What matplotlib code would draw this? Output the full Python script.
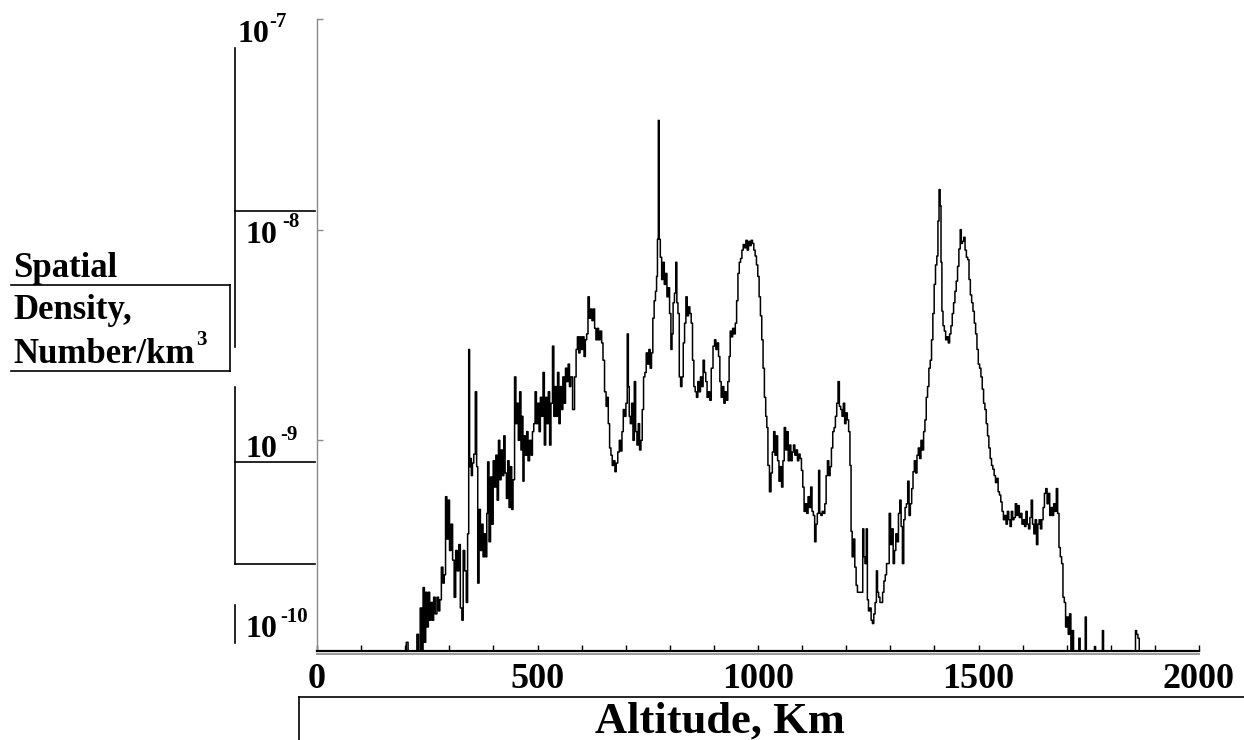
import matplotlib
matplotlib.use("Agg")
import matplotlib.pyplot as plt
from matplotlib.lines import Line2D
from matplotlib.ticker import FixedLocator, NullLocator

# debris density profile, altitude in km vs. objects per km^3
# (1e-10 marks bins with nothing in them; they sit on the axis)
altitude_km = [
    0, 200, 205, 208, 225, 228, 232, 236,
    239, 242, 245, 248, 251, 254, 257, 260,
    263, 266, 270, 274, 277, 280, 284, 287,
    290, 293, 296, 299, 302, 306, 309, 313,
    316, 320, 323, 327, 330, 333, 337, 340,
    343, 345, 347, 349, 351, 354, 357, 361,
    363, 366, 369, 372, 375, 378, 381, 384,
    386, 388, 392, 395, 398, 401, 404, 407,
    410, 413, 416, 419, 422, 425, 428, 431,
    434, 437, 440, 443, 446, 450, 452, 455,
    458, 461, 464, 466, 468, 471, 474, 477,
    480, 484, 487, 490, 493, 496, 499, 502,
    505, 508, 511, 514, 517, 520, 523, 526,
    529, 532, 536, 538, 541, 544, 547, 550,
    553, 556, 559, 562, 565, 568, 571, 574,
    577, 582, 586, 589, 592, 595, 598, 601,
    604, 607, 610, 613, 616, 619, 622, 625,
    628, 631, 634, 637, 640, 644, 647, 650,
    654, 657, 659, 662, 665, 668, 671, 674,
    677, 680, 684, 687, 690, 693, 696, 699,
    702, 705, 707, 709, 712, 715, 718, 721,
    724, 727, 730, 733, 736, 739, 742, 745,
    748, 751, 754, 757, 760, 763, 766, 769,
    771, 773, 775, 777, 780, 783, 786, 789,
    792, 795, 798, 801, 804, 806, 809, 812,
    815, 817, 820, 823, 826, 829, 832, 835,
    838, 841, 844, 847, 850, 853, 856, 859,
    862, 865, 868, 871, 874, 877, 880, 883,
    886, 889, 892, 896, 900, 903, 906, 909,
    912, 915, 918, 921, 924, 927, 930, 933,
    936, 938, 941, 944, 947, 950, 953, 956,
    959, 962, 965, 968, 971, 974, 977, 980,
    983, 986, 989, 992, 995, 998, 1001, 1004,
    1007, 1010, 1013, 1016, 1019, 1021, 1024, 1028,
    1031, 1034, 1037, 1040, 1043, 1046, 1049, 1052,
    1055, 1058, 1061, 1064, 1067, 1070, 1073, 1076,
    1079, 1082, 1085, 1088, 1091, 1094, 1097, 1100,
    1103, 1106, 1109, 1112, 1115, 1118, 1121, 1124,
    1127, 1130, 1133, 1136, 1139, 1141, 1144, 1147,
    1150, 1153, 1156, 1159, 1162, 1165, 1168, 1171,
    1174, 1177, 1180, 1183, 1186, 1189, 1192, 1195,
    1198, 1201, 1204, 1207, 1210, 1212, 1215, 1218,
    1221, 1224, 1227, 1230, 1233, 1236, 1239, 1241,
    1244, 1247, 1249, 1252, 1255, 1258, 1261, 1264,
    1267, 1270, 1272, 1275, 1278, 1281, 1284, 1287,
    1290, 1293, 1296, 1299, 1302, 1305, 1308, 1311,
    1314, 1317, 1320, 1323, 1326, 1329, 1332, 1335,
    1338, 1341, 1344, 1347, 1350, 1353, 1356, 1359,
    1362, 1365, 1368, 1371, 1374, 1377, 1380, 1383,
    1386, 1389, 1392, 1395, 1398, 1401, 1404, 1407,
    1409, 1412, 1414, 1416, 1418, 1421, 1424, 1427,
    1430, 1433, 1436, 1439, 1442, 1445, 1448, 1451,
    1454, 1457, 1460, 1462, 1465, 1468, 1471, 1474,
    1477, 1480, 1483, 1486, 1489, 1492, 1495, 1498,
    1501, 1504, 1507, 1510, 1513, 1516, 1519, 1522,
    1525, 1528, 1531, 1534, 1537, 1540, 1543, 1546,
    1549, 1552, 1555, 1558, 1561, 1564, 1567, 1570,
    1573, 1576, 1579, 1582, 1585, 1588, 1591, 1594,
    1597, 1600, 1603, 1606, 1609, 1612, 1615, 1618,
    1621, 1624, 1627, 1630, 1633, 1636, 1639, 1642,
    1645, 1648, 1651, 1654, 1657, 1660, 1663, 1666,
    1669, 1672, 1675, 1678, 1681, 1684, 1687, 1690,
    1693, 1696, 1699, 1702, 1705, 1708, 1711, 1714,
    1717, 1726, 1729, 1732, 1741, 1743, 1746, 1762,
    1764, 1767, 1780, 1782, 1785, 1855, 1857, 1860,
    1863, 1866, 2000,
]

density = [
    1e-10, 1e-10, 1.1e-10, 1e-10, 1e-10, 1.2e-10, 1e-10, 1.6e-10,
    1e-10, 2.0e-10, 1.1e-10, 1.9e-10, 1.3e-10, 1.9e-10, 1.4e-10, 1.7e-10,
    1.4e-10, 1.8e-10, 1.5e-10, 1.8e-10, 1.55e-10, 1.75e-10, 2.5e-10, 2.1e-10,
    2.3e-10, 5.4e-10, 3.4e-10, 5.2e-10, 3.0e-10, 4.0e-10, 2.7e-10, 1.8e-10,
    3.0e-10, 2.4e-10, 3.2e-10, 1.6e-10, 1.4e-10, 3.0e-10, 2.4e-10, 1.7e-10,
    3.6e-10, 2.7e-9, 7.5e-10, 8.2e-10, 6.8e-10, 7.8e-10, 8.6e-10, 1.7e-9,
    7.5e-10, 2.1e-10, 4.7e-10, 3.0e-10, 4.0e-10, 2.8e-10, 3.6e-10, 2.8e-10,
    4.5e-10, 7.9e-10, 3.3e-10, 6.7e-10, 4.0e-10, 8.0e-10, 6.0e-10, 8.5e-10,
    5.2e-10, 1.0e-9, 6.5e-10, 9.0e-10, 6.8e-10, 1.05e-9, 7.0e-10, 5.3e-10,
    8.0e-10, 4.8e-10, 7.5e-10, 4.7e-10, 6.5e-10, 2.0e-9, 1.2e-9, 1.5e-9,
    1.0e-9, 1.7e-9, 9.0e-10, 1.3e-9, 6.4e-10, 1.05e-9, 8.5e-10, 1.1e-9,
    8.0e-10, 1.0e-9, 8.5e-10, 1.1e-9, 1.2e-9, 1.7e-9, 1.2e-9, 1.5e-9,
    1.1e-9, 1.6e-9, 1.3e-9, 2.1e-9, 9.5e-10, 1.6e-9, 1.2e-9, 1.7e-9,
    9.5e-10, 1.5e-9, 2.8e-9, 1.3e-9, 1.8e-9, 1.3e-9, 2.1e-9, 1.2e-9,
    1.8e-9, 1.4e-9, 2.0e-9, 1.5e-9, 2.2e-9, 1.9e-9, 2.3e-9, 1.8e-9,
    2.0e-9, 1.4e-9, 2.0e-9, 2.7e-9, 3.1e-9, 2.6e-9, 3.1e-9, 2.7e-9,
    3.1e-9, 2.5e-9, 3.0e-9, 3.2e-9, 4.8e-9, 3.8e-9, 4.2e-9, 3.7e-9,
    4.2e-9, 3.4e-9, 3.0e-9, 3.4e-9, 3.0e-9, 3.3e-9, 2.9e-9, 2.4e-9,
    1.7e-9, 1.45e-9, 1.6e-9, 1.2e-9, 9.2e-10, 8.5e-10, 7.6e-10, 8.0e-10,
    7.1e-10, 7.8e-10, 8.8e-10, 1.0e-9, 8.9e-10, 1.1e-9, 1.4e-9, 1.3e-9,
    1.5e-9, 3.2e-9, 1.8e-9, 1.3e-9, 1.2e-9, 1.5e-9, 1.0e-9, 1.9e-9,
    1.1e-9, 9.5e-10, 1.2e-9, 9.0e-10, 1.0e-9, 1.4e-9, 2.0e-9, 2.1e-9,
    2.6e-9, 2.3e-9, 2.7e-9, 2.2e-9, 2.6e-9, 3.8e-9, 4.6e-9, 5.1e-9,
    6.0e-9, 9.0e-9, 3.3e-8, 9.0e-9, 7.4e-9, 5.8e-9, 7.0e-9, 5.5e-9,
    6.2e-9, 4.8e-9, 5.3e-9, 4.0e-9, 2.7e-9, 3.2e-9, 4.5e-9, 5.0e-9,
    7.0e-9, 4.5e-9, 4.0e-9, 2.0e-9, 1.8e-9, 2.0e-9, 2.9e-9, 3.6e-9,
    4.8e-9, 3.9e-9, 4.3e-9, 4.0e-9, 3.6e-9, 2.4e-9, 1.8e-9, 1.7e-9,
    1.6e-9, 1.9e-9, 1.7e-9, 2.0e-9, 1.8e-9, 2.4e-9, 2.1e-9, 1.9e-9,
    1.6e-9, 1.7e-9, 1.55e-9, 2.2e-9, 2.8e-9, 3.0e-9, 2.7e-9, 2.9e-9,
    2.5e-9, 1.9e-9, 1.6e-9, 1.8e-9, 1.5e-9, 1.7e-9, 1.55e-9, 1.9e-9,
    2.5e-9, 3.3e-9, 3.1e-9, 3.4e-9, 3.2e-9, 3.6e-9, 4.6e-9, 6.2e-9,
    7.0e-9, 7.3e-9, 8.0e-9, 8.5e-9, 8.2e-9, 8.9e-9, 8.0e-9, 8.8e-9,
    8.4e-9, 8.9e-9, 8.6e-9, 8.0e-9, 7.5e-9, 6.8e-9, 6.0e-9, 4.8e-9,
    3.9e-9, 3.0e-9, 2.2e-9, 1.6e-9, 1.3e-9, 1.15e-9, 7.6e-10, 5.7e-10,
    7.0e-10, 8.8e-10, 1.1e-9, 8.5e-10, 1.05e-9, 8.0e-10, 6.4e-10, 7.5e-10,
    6.0e-10, 8.0e-10, 1.15e-9, 9.0e-10, 1.1e-9, 8.0e-10, 9.5e-10, 8.0e-10,
    8.8e-10, 9.5e-10, 8.5e-10, 9.0e-10, 8.0e-10, 8.6e-10, 8.2e-10, 7.2e-10,
    6.0e-10, 4.6e-10, 5.0e-10, 4.5e-10, 5.4e-10, 4.8e-10, 6.0e-10, 4.6e-10,
    4.4e-10, 3.3e-10, 4.0e-10, 4.5e-10, 7.2e-10, 4.5e-10, 4.4e-10, 4.6e-10,
    4.5e-10, 5.0e-10, 6.8e-10, 8.0e-10, 6.8e-10, 7.5e-10, 9.2e-10, 1.1e-9,
    1.15e-9, 1.3e-9, 1.5e-9, 1.9e-9, 1.45e-9, 1.4e-9, 1.3e-9, 1.5e-9,
    1.2e-9, 1.35e-9, 1.25e-9, 1.1e-9, 7.6e-10, 3.7e-10, 2.8e-10, 3.4e-10,
    2.5e-10, 2.05e-10, 1.9e-10, 1.9e-10, 1.9e-10, 1.9e-10, 3.8e-10, 2.8e-10,
    2.6e-10, 3.8e-10, 1.75e-10, 1.55e-10, 1.6e-10, 1.4e-10, 1.35e-10, 1.5e-10,
    1.7e-10, 2.4e-10, 1.9e-10, 1.8e-10, 1.7e-10, 1.7e-10, 1.9e-10, 2.15e-10,
    2.3e-10, 2.6e-10, 2.6e-10, 4.5e-10, 3.2e-10, 3.8e-10, 2.6e-10, 3.0e-10,
    3.6e-10, 3.3e-10, 4.5e-10, 5.2e-10, 3.9e-10, 2.6e-10, 4.2e-10, 4.8e-10,
    5.0e-10, 6.4e-10, 4.4e-10, 5.0e-10, 5.9e-10, 7.1e-10, 8.0e-10, 7.0e-10,
    8.5e-10, 9.2e-10, 8.2e-10, 1.0e-9, 9.0e-10, 1.1e-9, 1.25e-9, 1.6e-9,
    1.8e-9, 2.2e-9, 2.4e-9, 3.0e-9, 4.0e-9, 5.5e-9, 6.8e-9, 7.5e-9,
    1.1e-8, 1.55e-8, 1.3e-8, 7.0e-9, 4.1e-9, 3.5e-9, 3.3e-9, 3.0e-9,
    3.1e-9, 2.9e-9, 3.2e-9, 3.5e-9, 4.0e-9, 4.5e-9, 5.1e-9, 5.7e-9,
    6.7e-9, 8.1e-9, 1.0e-8, 8.6e-9, 8.8e-9, 9.2e-9, 8.0e-9, 7.4e-9,
    7.2e-9, 5.8e-9, 4.9e-9, 4.5e-9, 4.1e-9, 3.6e-9, 3.2e-9, 2.7e-9,
    2.3e-9, 2.2e-9, 2.0e-9, 1.75e-9, 1.5e-9, 1.4e-9, 1.2e-9, 1.05e-9,
    9.2e-10, 8.2e-10, 7.6e-10, 7.3e-10, 6.8e-10, 6.3e-10, 6.6e-10, 5.7e-10,
    5.5e-10, 5.1e-10, 4.6e-10, 4.2e-10, 4.4e-10, 4.0e-10, 4.6e-10, 4.2e-10,
    3.9e-10, 4.6e-10, 4.2e-10, 4.3e-10, 5.0e-10, 4.4e-10, 4.9e-10, 4.3e-10,
    4.5e-10, 4.0e-10, 4.2e-10, 3.9e-10, 4.6e-10, 4.0e-10, 3.8e-10, 4.3e-10,
    5.2e-10, 4.0e-10, 3.6e-10, 4.2e-10, 3.2e-10, 4.0e-10, 4.2e-10, 3.8e-10,
    4.2e-10, 4.8e-10, 5.6e-10, 5.9e-10, 5.0e-10, 5.6e-10, 4.4e-10, 4.8e-10,
    4.4e-10, 5.0e-10, 4.6e-10, 5.9e-10, 4.5e-10, 3.1e-10, 2.8e-10, 2.6e-10,
    1.8e-10, 1.7e-10, 1.3e-10, 1.45e-10, 1.2e-10, 1.5e-10, 1e-10, 1.25e-10,
    1e-10, 1e-10, 1.15e-10, 1e-10, 1e-10, 1.45e-10, 1e-10, 1e-10,
    1.05e-10, 1e-10, 1e-10, 1.25e-10, 1e-10, 1e-10, 1.25e-10, 1.2e-10,
    1.15e-10, 1e-10, 1e-10,
]

assert len(altitude_km) == len(density)

x_ticks = [0, 500, 1000, 1500, 2000]
x_minor = list(range(0, 2001, 100))
decades = [1e-7, 1e-8, 1e-9, 1e-10]
decade_exp = ["-7", "-8", "-9", "-10"]

W, H = 1244, 740
plt.rcParams["font.family"] = ["Liberation Serif", "DejaVu Serif"]
plt.rcParams["font.weight"] = "bold"

fig = plt.figure(figsize=(W / 100, H / 100), dpi=100)
fig.patch.set_facecolor("white")


def fx(px):
    return px / W


def fy(py):
    return 1 - py / H


ax = fig.add_axes([fx(317), fy(651), fx(1199) - fx(317), fy(19) - fy(651)])
ax.plot(altitude_km, density, color="black", lw=1.1, drawstyle="steps-mid",
        clip_on=False, zorder=3)
ax.set_yscale("log")
ax.set_xlim(0, 2000)
ax.set_ylim(1e-10, 1e-7)

for side in ("top", "right"):
    ax.spines[side].set_visible(False)
ax.spines["left"].set_color("#8a8a8a")
ax.spines["left"].set_linewidth(1.0)
ax.spines["bottom"].set_color("black")
ax.spines["bottom"].set_linewidth(1.6)

ax.xaxis.set_major_locator(FixedLocator(x_ticks))
ax.xaxis.set_minor_locator(FixedLocator(x_minor))
ax.set_xticklabels([str(v) for v in x_ticks], fontsize=26, fontweight="bold")
ax.tick_params(axis="x", which="both", direction="in", length=4, width=1,
               color="black", pad=9)

ax.yaxis.set_major_locator(FixedLocator(decades[:3]))
ax.yaxis.set_minor_locator(NullLocator())
ax.tick_params(axis="y", which="both", direction="in", length=4.5, width=1,
               color="#8a8a8a", labelleft=False)

# grey shadow under the x axis line
fig.add_artist(Line2D([fx(317), fx(1199)], [fy(653.5)] * 2, color="#9a9a9a", lw=1.4))

# decade labels drawn by hand beside the axis
base_pos = [(238, 42), (246, 243), (246, 457), (246, 637)]
exp_pos = [(269, 27), (282, 227), (280, 440), (280, 622)]
for (bx, by), (ex, ey), e in zip(base_pos, exp_pos, decade_exp):
    fig.text(fx(bx), fy(by), "10", fontsize=23, fontweight="bold",
             ha="left", va="baseline")
    fig.text(fx(ex), fy(ey), e, fontsize=15, fontweight="bold",
             ha="left", va="baseline")

# y axis title, three lines
fig.text(fx(13), fy(277), "Spatial", fontsize=25, fontweight="bold", va="baseline")
fig.text(fx(13), fy(319), "Density,", fontsize=25, fontweight="bold", va="baseline")
fig.text(fx(13), fy(363), "Number/km", fontsize=25, fontweight="bold", va="baseline")
fig.text(fx(196), fy(345), "3", fontsize=15, fontweight="bold", va="baseline")

fig.text(fx(720), fy(733), "Altitude, Km", fontsize=32, fontweight="bold",
         ha="center", va="baseline")

# leftover frame lines around the labels
frame_segments = [
    ((235, 48), (235, 347)),
    ((235, 211), (315, 211)),
    ((11, 285), (230, 285)),
    ((230, 285), (230, 371)),
    ((11, 371), (230, 371)),
    ((235, 387), (235, 564)),
    ((235, 462), (315, 462)),
    ((235, 564), (315, 564)),
    ((235, 605), (235, 643)),
    ((299, 697), (1244, 697)),
    ((299, 697), (299, 740)),
]
for (x0, y0), (x1, y1) in frame_segments:
    fig.add_artist(Line2D([fx(x0), fx(x1)], [fy(y0), fy(y1)], color="black", lw=1.2))

fig.savefig("out.png", dpi=100, facecolor="white")
